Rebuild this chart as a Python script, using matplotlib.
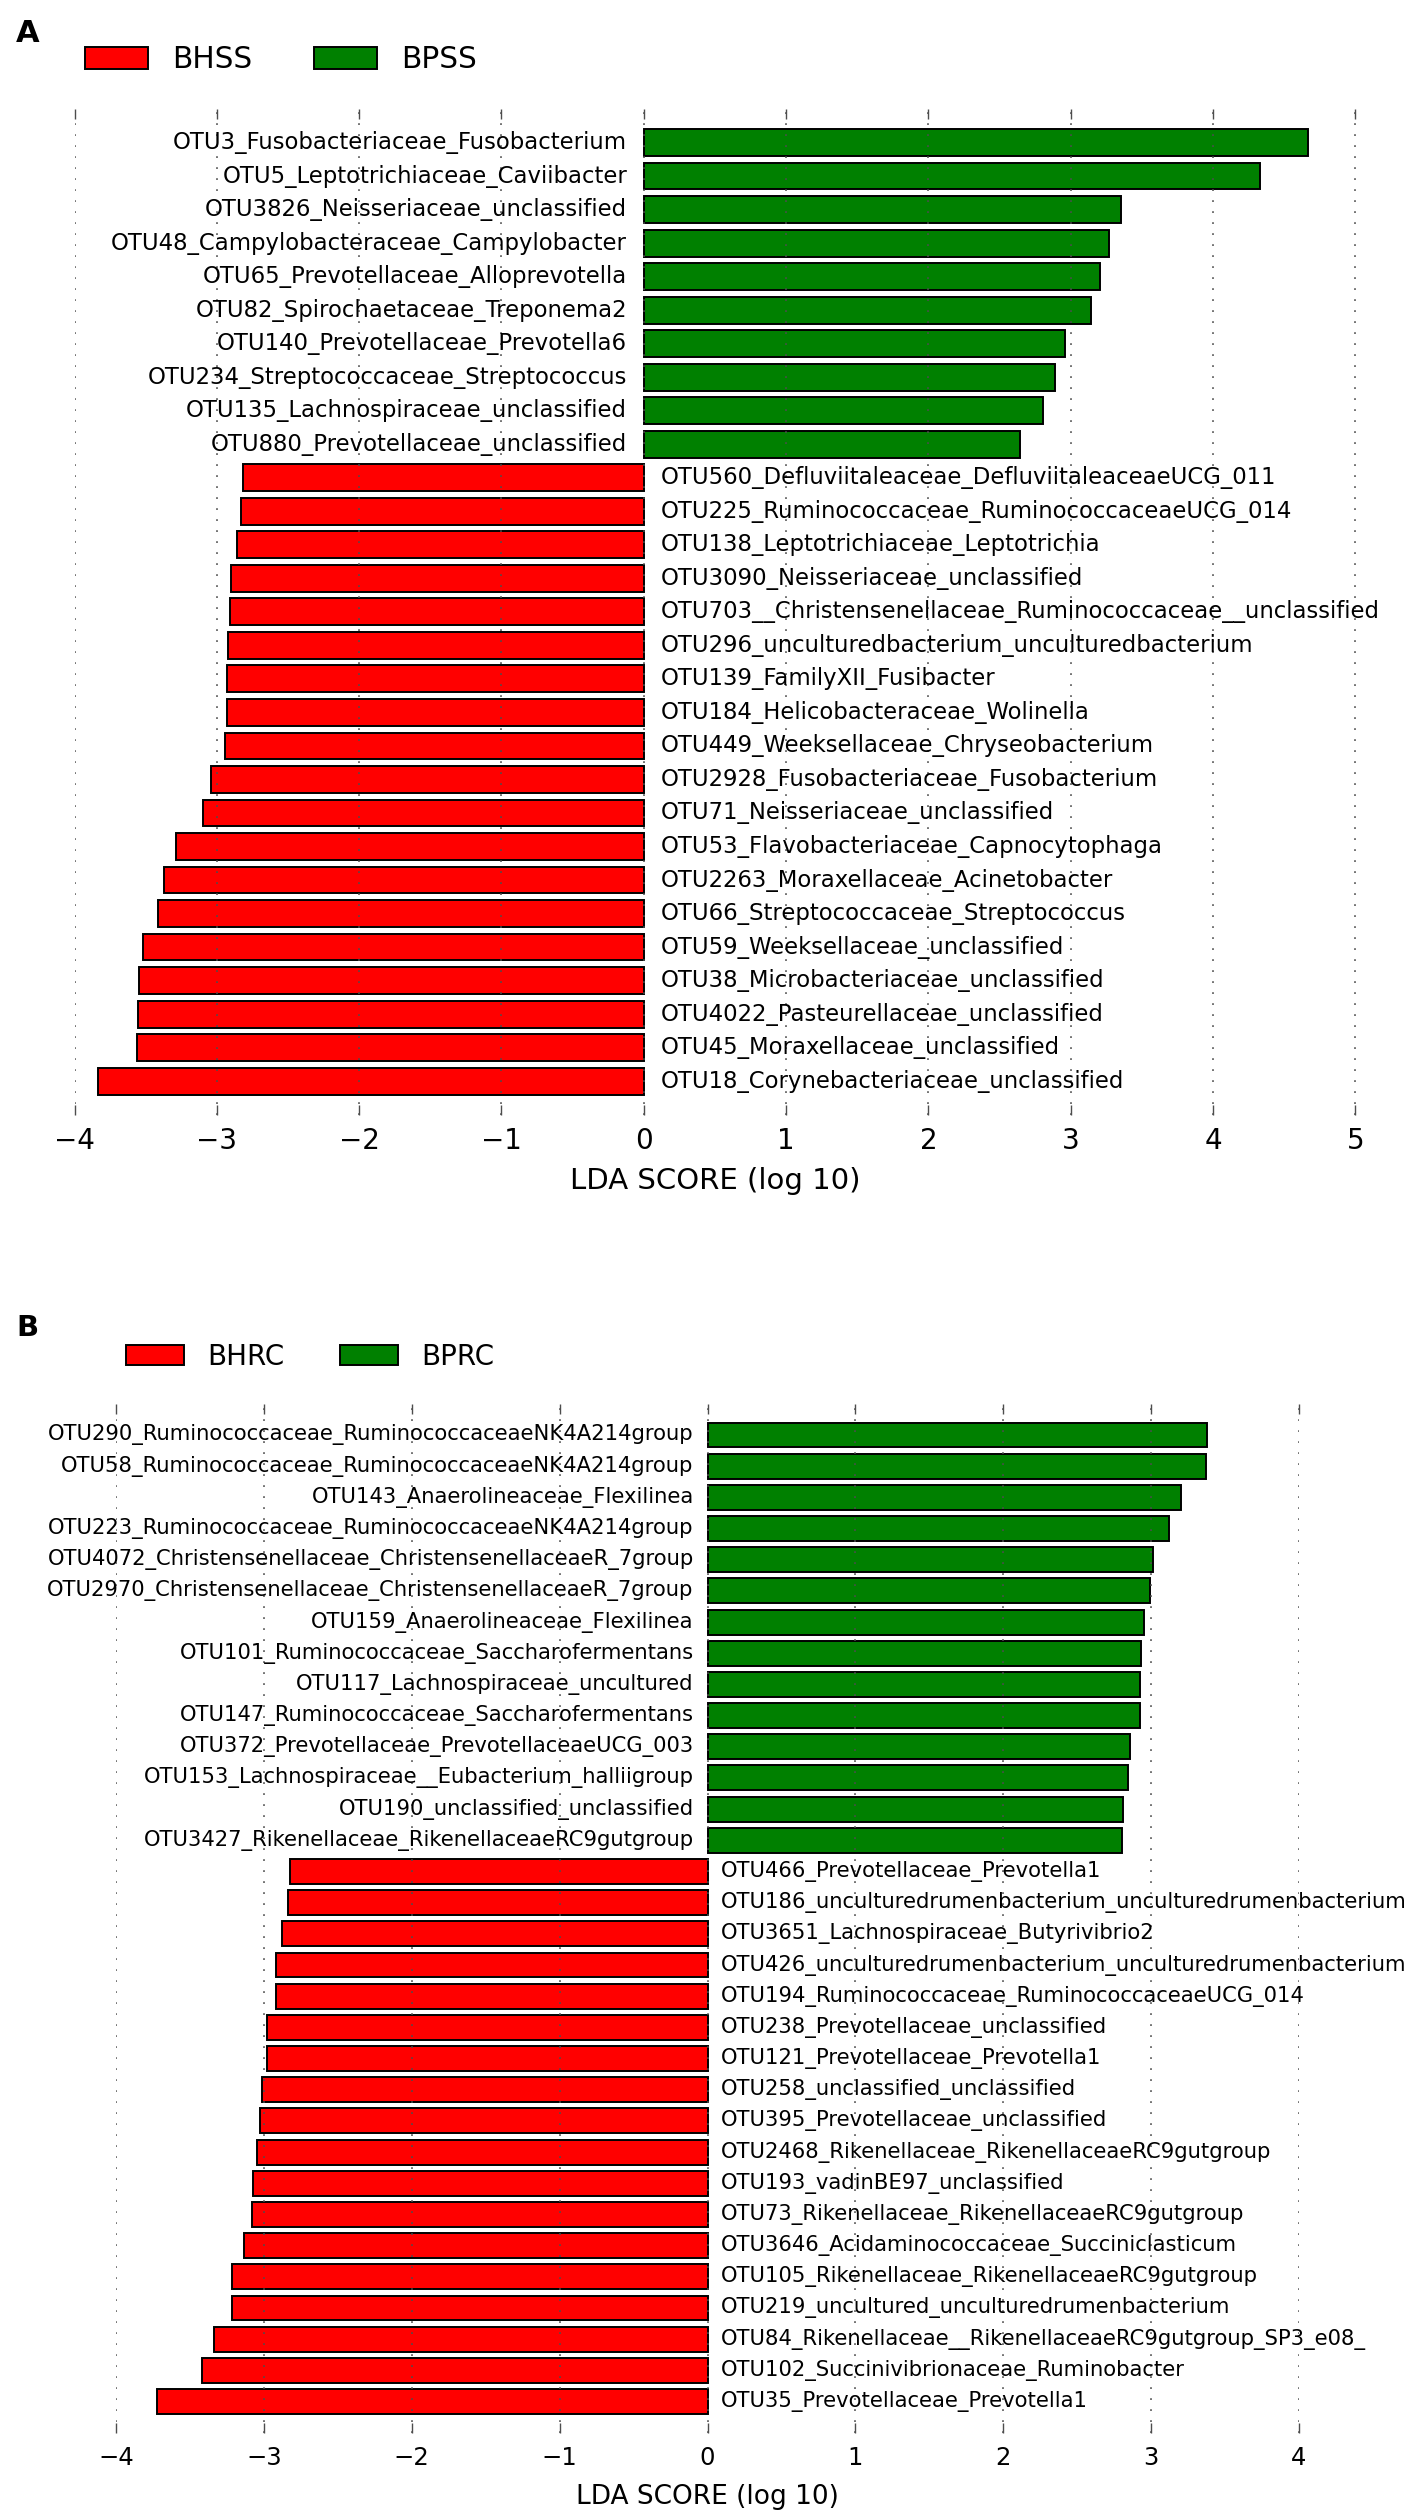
import matplotlib
matplotlib.use("Agg")
import matplotlib.pyplot as plt
from matplotlib.patches import Patch

W, H = 1421, 2517
RED = "#ff0000"
GREEN = "#008000"

# ---- panel A data (top to bottom) ----
a_classes = ["BHSS", "BPSS"]
a_names = [
    "OTU3_Fusobacteriaceae_Fusobacterium",
    "OTU5_Leptotrichiaceae_Caviibacter",
    "OTU3826_Neisseriaceae_unclassified",
    "OTU48_Campylobacteraceae_Campylobacter",
    "OTU65_Prevotellaceae_Alloprevotella",
    "OTU82_Spirochaetaceae_Treponema2",
    "OTU140_Prevotellaceae_Prevotella6",
    "OTU234_Streptococcaceae_Streptococcus",
    "OTU135_Lachnospiraceae_unclassified",
    "OTU880_Prevotellaceae_unclassified",
    "OTU560_Defluviitaleaceae_DefluviitaleaceaeUCG_011",
    "OTU225_Ruminococcaceae_RuminococcaceaeUCG_014",
    "OTU138_Leptotrichiaceae_Leptotrichia",
    "OTU3090_Neisseriaceae_unclassified",
    "OTU703__Christensenellaceae_Ruminococcaceae__unclassified",
    "OTU296_unculturedbacterium_unculturedbacterium",
    "OTU139_FamilyXII_Fusibacter",
    "OTU184_Helicobacteraceae_Wolinella",
    "OTU449_Weeksellaceae_Chryseobacterium",
    "OTU2928_Fusobacteriaceae_Fusobacterium",
    "OTU71_Neisseriaceae_unclassified",
    "OTU53_Flavobacteriaceae_Capnocytophaga",
    "OTU2263_Moraxellaceae_Acinetobacter",
    "OTU66_Streptococcaceae_Streptococcus",
    "OTU59_Weeksellaceae_unclassified",
    "OTU38_Microbacteriaceae_unclassified",
    "OTU4022_Pasteurellaceae_unclassified",
    "OTU45_Moraxellaceae_unclassified",
    "OTU18_Corynebacteriaceae_unclassified",
]
a_scores = [4.665, 4.33, 3.351, 3.27, 3.208, 3.14, 2.958, 2.888, 2.806, 2.64,
            -2.819, -2.828, -2.861, -2.899, -2.908, -2.92, -2.927, -2.929,
            -2.946, -3.04, -3.098, -3.29, -3.374, -3.41, -3.517, -3.55,
            -3.552, -3.559, -3.836]

# ---- panel B data (top to bottom) ----
b_classes = ["BHRC", "BPRC"]
b_names = [
    "OTU290_Ruminococcaceae_RuminococcaceaeNK4A214group",
    "OTU58_Ruminococcaceae_RuminococcaceaeNK4A214group",
    "OTU143_Anaerolineaceae_Flexilinea",
    "OTU223_Ruminococcaceae_RuminococcaceaeNK4A214group",
    "OTU4072_Christensenellaceae_ChristensenellaceaeR_7group",
    "OTU2970_Christensenellaceae_ChristensenellaceaeR_7group",
    "OTU159_Anaerolineaceae_Flexilinea",
    "OTU101_Ruminococcaceae_Saccharofermentans",
    "OTU117_Lachnospiraceae_uncultured",
    "OTU147_Ruminococcaceae_Saccharofermentans",
    "OTU372_Prevotellaceae_PrevotellaceaeUCG_003",
    "OTU153_Lachnospiraceae__Eubacterium_halliigroup",
    "OTU190_unclassified_unclassified",
    "OTU3427_Rikenellaceae_RikenellaceaeRC9gutgroup",
    "OTU466_Prevotellaceae_Prevotella1",
    "OTU186_unculturedrumenbacterium_unculturedrumenbacterium",
    "OTU3651_Lachnospiraceae_Butyrivibrio2",
    "OTU426_unculturedrumenbacterium_unculturedrumenbacterium",
    "OTU194_Ruminococcaceae_RuminococcaceaeUCG_014",
    "OTU238_Prevotellaceae_unclassified",
    "OTU121_Prevotellaceae_Prevotella1",
    "OTU258_unclassified_unclassified",
    "OTU395_Prevotellaceae_unclassified",
    "OTU2468_Rikenellaceae_RikenellaceaeRC9gutgroup",
    "OTU193_vadinBE97_unclassified",
    "OTU73_Rikenellaceae_RikenellaceaeRC9gutgroup",
    "OTU3646_Acidaminococcaceae_Succiniclasticum",
    "OTU105_Rikenellaceae_RikenellaceaeRC9gutgroup",
    "OTU219_uncultured_unculturedrumenbacterium",
    "OTU84_Rikenellaceae__RikenellaceaeRC9gutgroup_SP3_e08_",
    "OTU102_Succinivibrionaceae_Ruminobacter",
    "OTU35_Prevotellaceae_Prevotella1",
]
b_scores = [3.376, 3.372, 3.20, 3.12, 3.014, 2.993, 2.953, 2.932, 2.926,
            2.923, 2.856, 2.842, 2.813, 2.802,
            -2.824, -2.84, -2.88, -2.917, -2.921, -2.978, -2.978, -3.011,
            -3.025, -3.047, -3.076, -3.079, -3.135, -3.214, -3.214, -3.336,
            -3.417, -3.721]


def px_rect(left, top, right, bottom):
    return [left / W, 1 - bottom / H, (right - left) / W, (bottom - top) / H]


def lefse_panel(fig, rect, names, scores, xlim, fs_lab, fs_tick, fs_xlab, tick_pad, xlab_pad):
    ax = fig.add_axes(rect, frame_on=False)
    n = len(names)
    pos = [n - 1 - i for i in range(n)]
    cols = [GREEN if s > 0 else RED for s in scores]
    ax.barh(pos, scores, height=0.8, color=cols, edgecolor="black",
            linewidth=1.4, align="center", zorder=1)
    # labels sit just across the zero line from their bar
    off = max(abs(s) for s in scores) / 40.0
    for p, nm, s in zip(pos, names, scores):
        if s > 0:
            ax.text(-off, p, nm, ha="right", va="center", fontsize=fs_lab, zorder=3)
        else:
            ax.text(off, p, nm, ha="left", va="center", fontsize=fs_lab, zorder=3)
    ax.set_ylim(-1, n)
    ax.set_xlim(xlim)
    ax.set_xticks(range(int(xlim[0]), int(xlim[1]) + 1))
    ax.set_yticks([])
    ax.xaxis.grid(True, linestyle=(0, (1.2, 6.0)), color="0.3", linewidth=1.1, zorder=2)
    ax.tick_params(axis="x", direction="in", top=True, bottom=True, length=7,
                   width=1, color="0.3", labelsize=fs_tick, pad=tick_pad)
    ax.set_xlabel("LDA SCORE (log 10)", fontsize=fs_xlab, labelpad=xlab_pad)
    return ax


def legend_at(fig, classes, x, y, fs, hl, hh, htp, cs):
    handles = [Patch(facecolor=RED, edgecolor="black", linewidth=1.4),
               Patch(facecolor=GREEN, edgecolor="black", linewidth=1.4)]
    fig.legend(handles, classes, loc="center left", bbox_to_anchor=(x / W, 1 - y / H),
               ncol=2, frameon=False, fontsize=fs, handlelength=hl, handleheight=hh,
               handletextpad=htp, columnspacing=cs, borderpad=0, borderaxespad=0)


fig = plt.figure(figsize=(W / 100, H / 100), dpi=100)

lefse_panel(fig, px_rect(74.5, 109, 1355.5, 1114.7), a_names, a_scores, (-4, 5),
            16.4, 20, 21, 8.9, 8.6)
legend_at(fig, a_classes, 85, 59.5, 21.3, 2.13, 0.78, 0.81, 2.09)
fig.text(16 / W, 1 - 42 / H, "A", fontsize=22, fontweight="bold", va="baseline")

lefse_panel(fig, px_rect(116, 1403.8, 1299, 2432.7), b_names, b_scores, (-4, 4),
            15.25, 17.5, 19, 9.4, 10)
legend_at(fig, b_classes, 126, 1356.7, 20, 2.09, 0.72, 0.84, 1.99)
fig.text(16 / W, 1 - 1336 / H, "B", fontsize=21, fontweight="bold", va="baseline")

fig.savefig("out.png", dpi=100)
